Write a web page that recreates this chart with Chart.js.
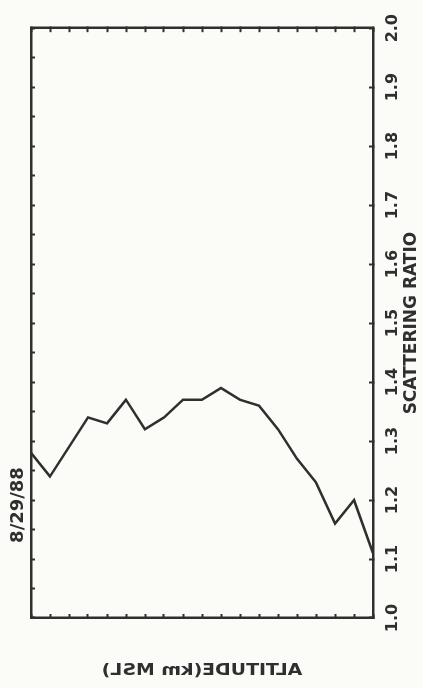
<!DOCTYPE html>
<html>
<head>
<meta charset="utf-8">
<style>
  html, body { margin: 0; padding: 0; width: 423px; height: 688px; overflow: hidden; background: #fbfbf8; }
  /* the plot is drawn landscape and turned a quarter turn so the ratio axis runs up the right side */
  #wrap { position: absolute; left: 0; top: 0; width: 688px; height: 423px;
          transform-origin: 0 0; transform: translateY(688px) rotate(-90deg); }
  canvas { display: block; }
</style>
<script src="https://cdn.jsdelivr.net/npm/chart.js@4.4.1/dist/chart.umd.min.js"></script>
</head>
<body>
<div id="wrap"><canvas id="lidar" width="688" height="423"></canvas></div>
<script>
// Lidar profile, 29 Aug 1988: backscatter scattering ratio versus altitude
const altitudeKm = [12, 13, 14, 15, 16, 17, 18, 19, 20, 21, 22, 23, 24, 25, 26, 27, 28, 29, 30];
const scatteringRatio = [1.11, 1.20, 1.16, 1.23, 1.27, 1.32, 1.36, 1.37, 1.39, 1.37,
                         1.37, 1.34, 1.32, 1.37, 1.33, 1.34, 1.29, 1.24, 1.28];
const ratioTickLabels = ['1.0', '1.1', '1.2', '1.3', '1.4', '1.5', '1.6', '1.7', '1.8', '1.9', '2.0'];
const dateLabel = '8/29/88';
const ratioTitle = 'SCATTERING RATIO';
const altitudeTitle = 'ALTITUDE(km MSL)';

const INK = '#2f2f2f';
const FONT = "'DejaVu Sans', 'Liberation Sans', sans-serif";

// plain frame axis: border plus short inward tick marks, no labels
function frameAxis(position, min, max, step, size) {
  const horizontal = position === 'top' || position === 'bottom';
  return {
    type: 'linear', position, min, max,
    ticks: { display: false, stepSize: step, autoSkip: false },
    grid: { display: true, drawOnChartArea: false, drawTicks: true, tickLength: -4, tickWidth: 2, tickColor: INK },
    border: { display: true, color: INK, width: 2.5 },
    afterFit: s => { if (horizontal) s.height = size; else s.width = size; }
  };
}

// free-standing labels: run date and the mirrored altitude caption
const captions = {
  id: 'captions',
  afterDraw(chart) {
    const ctx = chart.ctx;
    ctx.save();
    ctx.fillStyle = INK;
    ctx.textAlign = 'center';
    ctx.textBaseline = 'middle';
    ctx.font = "bold 18px " + FONT;
    ctx.fillText(dateLabel, 183, 18);
    ctx.restore();

    const area = chart.chartArea;
    ctx.save();
    ctx.fillStyle = INK;
    ctx.font = "bold 16px " + FONT;
    ctx.textAlign = 'center';
    ctx.textBaseline = 'middle';
    ctx.translate(17, (area.top + area.bottom) / 2);
    ctx.rotate(-Math.PI / 2);
    ctx.scale(1.18, -1);
    ctx.fillText(altitudeTitle, 0, 0);
    ctx.restore();
  }
};

const points = altitudeKm.map((a, i) => ({ x: scatteringRatio[i], y: a }));

new Chart(document.getElementById('lidar'), {
  type: 'line',
  data: {
    datasets: [{
      data: points,
      borderColor: INK,
      borderWidth: 2.5,
      pointRadius: 0,
      tension: 0,
      fill: false,
      xAxisID: 'x',
      yAxisID: 'y'
    }]
  },
  options: {
    responsive: false,
    animation: false,
    devicePixelRatio: 1,
    layout: { padding: { top: 31, right: 28, left: 0, bottom: 0 } },
    plugins: { legend: { display: false }, tooltip: { enabled: false } },
    scales: {
      x: {
        type: 'linear', position: 'bottom', min: 1.0, max: 2.0,
        ticks: {
          stepSize: 0.1, autoSkip: false, maxRotation: 0, minRotation: 0,
          padding: 14, color: INK,
          font: { family: FONT, size: 16, weight: 'bold' },
          callback: (v, i) => ratioTickLabels[i]
        },
        grid: { display: true, drawOnChartArea: false, drawTicks: true, tickLength: -4, tickWidth: 2, tickColor: INK },
        border: { display: true, color: INK, width: 2.5 },
        title: {
          display: true, text: ratioTitle, color: INK,
          font: { family: FONT, size: 17, weight: 'bold' },
          padding: { top: 0, bottom: 1 }
        },
        afterFit: s => { s.height = 50; }
      },
      x2: frameAxis('top', 1.0, 2.0, 0.05, 0),
      y: frameAxis('left', 12, 30, 1, 70),
      y2: frameAxis('right', 12, 30, 1, 0)
    }
  },
  plugins: [captions]
});
</script>
</body>
</html>
